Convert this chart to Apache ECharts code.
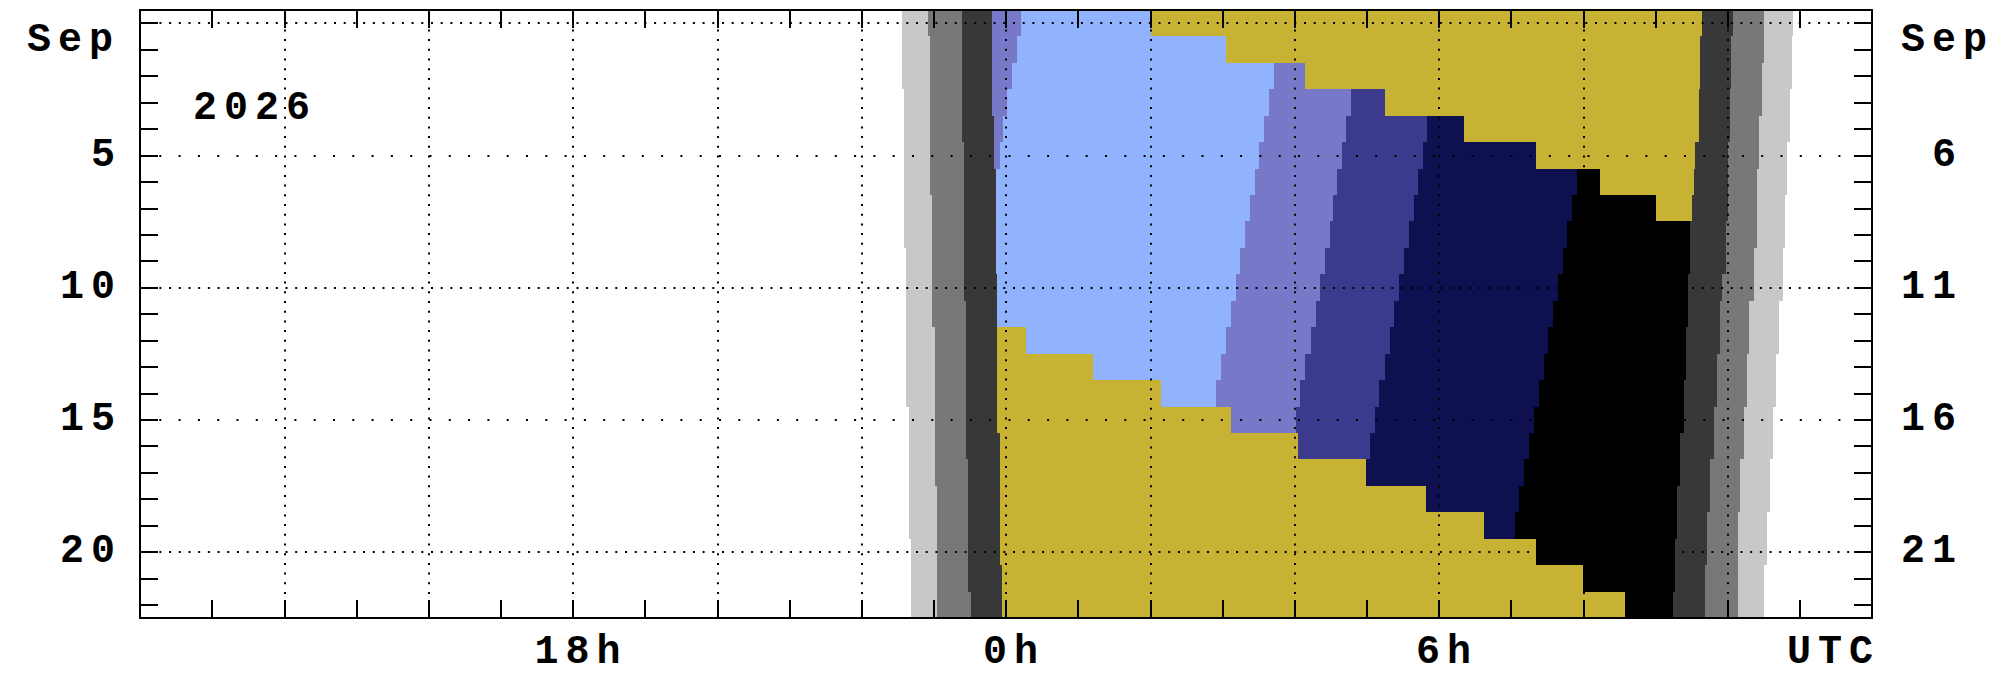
<!DOCTYPE html>
<html>
<head>
<meta charset="utf-8">
<script src="https://cdn.jsdelivr.net/npm/echarts@6.0.0/dist/echarts.min.js"></script>
<style>
  html, body { margin: 0; background: #fff; }
  #chart { width: 1998px; height: 678px; }
  #chart text { letter-spacing: 7px; }
</style>
</head>
<body>
<div id="chart"></div>
<script>
// one row per evening, Aug 31 .. Sep 22 (hours UTC, negative = before midnight)
const rowCount = 23

// evening twilight edges
const duskLightStart = [-1.44, -1.44, -1.44, -1.42, -1.42, -1.42, -1.42, -1.42, -1.42, -1.39, -1.39, -1.39, -1.39, -1.39, -1.39, -1.35, -1.35, -1.35, -1.35, -1.35, -1.32, -1.32, -1.32]
const duskMidStart = [-1.08, -1.05, -1.05, -1.05, -1.05, -1.05, -1.05, -1.02, -1.02, -1.02, -1.02, -1.02, -0.99, -0.99, -0.99, -0.99, -0.99, -0.99, -0.96, -0.96, -0.96, -0.96, -0.96]
const duskDarkStart = [-0.61, -0.61, -0.61, -0.61, -0.61, -0.585, -0.585, -0.585, -0.585, -0.585, -0.585, -0.55, -0.55, -0.55, -0.55, -0.55, -0.55, -0.52, -0.52, -0.52, -0.52, -0.52, -0.48]
const nightStart = [-0.19, -0.19, -0.19, -0.19, -0.17, -0.17, -0.14, -0.14, -0.14, -0.14, -0.125, -0.125, -0.125, -0.125, -0.125, -0.125, -0.09, -0.09, -0.09, -0.09, -0.09, -0.055, -0.055]

// morning twilight edges
const nightEnd = [9.65, 9.62, 9.62, 9.60, 9.60, 9.55, 9.53, 9.505, 9.48, 9.48, 9.45, 9.45, 9.42, 9.42, 9.39, 9.39, 9.34, 9.34, 9.30, 9.30, 9.27, 9.27, 9.24]
const dawnMidStart = [10.07, 10.05, 10.05, 10.03, 10.03, 10.0, 10.0, 10.0, 9.97, 9.97, 9.925, 9.89, 9.89, 9.85, 9.85, 9.805, 9.805, 9.76, 9.76, 9.71, 9.71, 9.68, 9.68]
const dawnLightStart = [10.51, 10.51, 10.475, 10.475, 10.44, 10.44, 10.405, 10.405, 10.405, 10.37, 10.37, 10.30, 10.30, 10.27, 10.27, 10.22, 10.22, 10.175, 10.175, 10.14, 10.14, 10.14, 10.14]
const dawnLightEnd = [10.91, 10.89, 10.89, 10.86, 10.86, 10.82, 10.82, 10.80, 10.80, 10.77, 10.77, 10.705, 10.705, 10.67, 10.67, 10.635, 10.635, 10.59, 10.59, 10.55, 10.55, 10.51, 10.51]

// dark-sky shading edges (null = hidden under the moon)
const edgeSliver = [0.21, 0.15, 0.08, 0.01, -0.04, -0.09, null, null, null, null, null, null, null, null, null, null, null, null, null, null, null, null, null]
const edgeLightBlue = [null, null, 3.71, 3.65, 3.58, 3.51, 3.445, 3.385, 3.315, 3.245, 3.19, 3.12, 3.05, 2.98, 2.91, null, null, null, null, null, null, null, null]
const edgeMidBlue = [null, null, null, 4.78, 4.715, 4.655, 4.585, 4.535, 4.485, 4.425, 4.355, 4.29, 4.22, 4.15, 4.08, 4.02, null, null, null, null, null, null, null]
const edgeDeepBlue = [null, null, null, null, 5.84, 5.785, 5.715, 5.65, 5.58, 5.51, 5.45, 5.38, 5.315, 5.245, 5.175, 5.115, 5.05, null, null, null, null, null, null]
const edgeNavy = [null, null, null, null, null, null, 7.91, 7.845, 7.78, 7.72, 7.65, 7.58, 7.51, 7.45, 7.38, 7.31, 7.25, 7.18, 7.115, 7.05, null, null, null]

// moon above horizon
const moonRise = [2.01, 3.05, 4.15, 5.25, 6.34, 7.34, 8.235, 9.01, null, null, null, null, null, null, null, null, null, null, null, null, null, null, null]
const moonSet = [null, null, null, null, null, null, null, null, null, null, null, null, 0.28, 1.21, 2.15, 3.12, 4.05, 4.99, 5.82, 6.62, 7.345, 8.0, 8.58]

// axis labels
const hourLabelValues = [-6, 0, 6, 12]
const hourLabelTexts = ['18h', '0h', '6h', 'UTC']
const dayLabelRows = [5, 10, 15, 20]
const denseGridRows = [0, 10, 20]
const sparseGridRows = [5, 15]

const colors = ['#c8c8c8', '#787878', '#383838', '#7878c8', '#91b2fd', '#3c3a8c', '#0e1050', '#000000', '#c8b234']
const LG = 0, G = 1, DG = 2, MB = 3, LB = 4, DB = 5, NV = 6, BK = 7, MOON = 8
const skyOrder = [MB, LB, MB, DB, NV, BK]

const FONT = "'Liberation Mono', 'DejaVu Sans Mono', monospace"

function buildSegments() {
  const segs = []
  const add = (a, b, row, c) => { if (b > a) segs.push([a, b, row, c]) }
  for (let r = 0; r < rowCount; r++) {
    add(duskLightStart[r], duskMidStart[r], r, LG)
    add(duskMidStart[r], duskDarkStart[r], r, G)
    add(duskDarkStart[r], nightStart[r], r, DG)

    const bounds = [edgeSliver[r], edgeLightBlue[r], edgeMidBlue[r], edgeDeepBlue[r], edgeNavy[r]]
    const first = bounds.findIndex((v) => v !== null)
    const filled = bounds.map((v, i) => {
      if (v !== null) return v
      return first === -1 || i < first ? nightStart[r] : nightEnd[r]
    })
    const edges = [nightStart[r], ...filled, nightEnd[r]]
    skyOrder.forEach((c, i) => add(edges[i], edges[i + 1], r, c))

    if (moonRise[r] !== null) add(moonRise[r], nightEnd[r], r, MOON)
    if (moonSet[r] !== null) add(nightStart[r], moonSet[r], r, MOON)

    add(nightEnd[r], dawnMidStart[r], r, DG)
    add(dawnMidStart[r], dawnLightStart[r], r, G)
    add(dawnLightStart[r], dawnLightEnd[r], r, LG)
  }
  return segs
}

const rowTicks = Array.from({ length: rowCount }, (_, i) => i)

const frameLine = { show: true, onZero: false, lineStyle: { color: '#000', width: 2 } }
const tickStyle = { color: '#000', width: 2 }
const labelFont = { fontFamily: FONT, fontWeight: 'bold', fontSize: 40, color: '#000' }

const chart = echarts.init(document.getElementById('chart'), null, { renderer: 'svg' })

chart.setOption({
  animation: false,
  grid: { left: 140, right: 126, top: 10, bottom: 60 },
  xAxis: [
    {
      type: 'value', min: -12, max: 12, interval: 2, position: 'bottom', z: 10,
      axisLine: frameLine,
      axisTick: { show: true, inside: true, length: 18, lineStyle: tickStyle },
      minorTick: { show: true, splitNumber: 2, length: 18, lineStyle: tickStyle },
      splitLine: { show: true, lineStyle: { color: '#000', width: 2, type: [2, 7.7] } },
      axisLabel: {
        ...labelFont,
        margin: 34,
        verticalAlign: 'middle',
        padding: [0, -8, 0, 8],
        alignMaxLabel: 'right',
        formatter(value) {
          const i = hourLabelValues.indexOf(value)
          return i >= 0 ? hourLabelTexts[i] : ''
        }
      }
    },
    {
      type: 'value', min: -12, max: 12, interval: 2, position: 'top', z: 10,
      axisLine: frameLine,
      axisTick: { show: true, inside: true, length: 18, lineStyle: tickStyle },
      minorTick: { show: true, splitNumber: 2, length: 18, lineStyle: tickStyle },
      splitLine: { show: false },
      axisLabel: { show: false }
    }
  ],
  yAxis: [
    {
      type: 'value', inverse: true, min: -0.5, max: 22.5, position: 'left', z: 10,
      axisLine: frameLine,
      axisTick: { show: true, inside: true, length: 18, customValues: rowTicks, lineStyle: tickStyle },
      splitLine: { show: false },
      axisLabel: {
        ...labelFont,
        margin: 18,
        customValues: dayLabelRows,
        formatter: (value) => String(value)
      }
    },
    {
      type: 'value', inverse: true, min: -0.5, max: 22.5, position: 'right', z: 10,
      axisLine: frameLine,
      axisTick: { show: true, inside: true, length: 18, customValues: rowTicks, lineStyle: tickStyle },
      splitLine: { show: false },
      axisLabel: {
        ...labelFont,
        margin: 91,
        align: 'right',
        customValues: dayLabelRows,
        formatter: (value) => String(value + 1)
      }
    }
  ],
  graphic: [
    { type: 'text', x: 120, y: 40, style: { text: 'Sep', align: 'right', verticalAlign: 'middle', font: `bold 40px ${FONT}`, fill: '#000' } },
    { type: 'text', x: 1901, y: 40, style: { text: 'Sep', align: 'left', verticalAlign: 'middle', font: `bold 40px ${FONT}`, fill: '#000' } },
    { type: 'text', x: 193, y: 108, style: { text: '2026', align: 'left', verticalAlign: 'middle', font: `bold 40px ${FONT}`, fill: '#000' } }
  ],
  series: [
    {
      type: 'custom',
      xAxisIndex: 0,
      yAxisIndex: 0,
      clip: true,
      encode: { x: [0, 1], y: 2 },
      data: buildSegments(),
      renderItem(params, api) {
        const a = api.coord([api.value(0), api.value(2) - 0.5])
        const b = api.coord([api.value(1), api.value(2) + 0.5])
        const x0 = Math.round(a[0])
        const x1 = Math.round(b[0])
        const y0 = Math.round(Math.min(a[1], b[1]))
        const y1 = Math.round(Math.max(a[1], b[1]))
        return {
          type: 'rect',
          shape: { x: x0, y: y0, width: x1 - x0, height: y1 - y0 },
          style: { fill: colors[api.value(3)] }
        }
      },
      markLine: {
        silent: true,
        symbol: ['none', 'none'],
        label: { show: false },
        z: 8,
        lineStyle: { color: '#000', width: 2 },
        data: [
          ...denseGridRows.map((v) => ({ yAxis: v, lineStyle: { type: [2, 7.7], color: '#000', width: 2 } })),
          ...sparseGridRows.map((v) => ({ yAxis: v, lineStyle: { type: [2, 17.3], color: '#000', width: 2 } }))
        ]
      }
    }
  ]
})
</script>
</body>
</html>
